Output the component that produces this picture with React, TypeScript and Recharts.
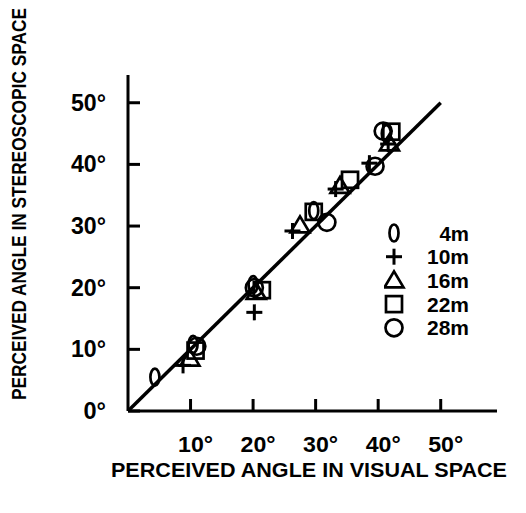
import { ScatterChart, Scatter, XAxis, YAxis, ReferenceLine, Legend, Label } from 'recharts';

// perceived angle in visual space (x) vs stereoscopic space (y), by viewing distance
const x4m = [4.3, 10.4, 20.0, 29.7, 41.3];
const y4m = [5.5, 10.8, 20.5, 32.5, 45.0];
const x10m = [8.8, 20.2, 26.3, 33.2, 38.6, 41.6];
const y10m = [7.4, 16.0, 29.2, 36.0, 40.2, 43.3];
const x16m = [9.9, 20.5, 27.5, 33.9, 41.8];
const y16m = [8.5, 19.3, 30.1, 36.5, 43.4];
const x22m = [10.8, 21.4, 29.7, 35.5, 42.1];
const y22m = [9.8, 19.6, 32.3, 37.5, 45.3];
const x28m = [11.0, 20.2, 31.8, 39.5, 40.8];
const y28m = [10.5, 20.0, 30.6, 39.7, 45.4];

const xTicks = [10, 20, 30, 40, 50];
const yTicks = [0, 10, 20, 30, 40, 50];

const FONT = '"Liberation Sans Narrow", "Liberation Sans", Arial, sans-serif';

const toPoints = (xs: number[], ys: number[]) => xs.map((x, i) => ({ x, y: ys[i] }));

// squeeze text to the narrow gothic look of the original
const textWidth = (s: string) =>
  s.split('').reduce((w, c) => w + (c === '°' ? 10 : c === 'm' ? 17 : 12.5), 0);

type ShapeProps = { cx?: number; cy?: number };

const ZeroShape = ({ cx = 0, cy = 0 }: ShapeProps) => (
  <ellipse cx={cx} cy={cy} rx={4.5} ry={8.5} fill="none" stroke="#000" strokeWidth={2.7} />
);
const PlusShape = ({ cx = 0, cy = 0 }: ShapeProps) => (
  <g stroke="#000" strokeWidth={3}>
    <line x1={cx - 8} y1={cy} x2={cx + 8} y2={cy} />
    <line x1={cx} y1={cy - 8} x2={cx} y2={cy + 8} />
  </g>
);
const TriangleShape = ({ cx = 0, cy = 0 }: ShapeProps) => (
  <polygon
    points={`${cx},${cy - 9} ${cx - 9.5},${cy + 7} ${cx + 9.5},${cy + 7}`}
    fill="none"
    stroke="#000"
    strokeWidth={2.7}
  />
);
const SquareShape = ({ cx = 0, cy = 0 }: ShapeProps) => (
  <rect x={cx - 8} y={cy - 8} width={16} height={16} fill="none" stroke="#000" strokeWidth={2.7} />
);
const CircleShape = ({ cx = 0, cy = 0 }: ShapeProps) => (
  <circle cx={cx} cy={cy} r={8.5} fill="none" stroke="#000" strokeWidth={2.7} />
);

const series = [
  { name: '4m', data: toPoints(x4m, y4m), Shape: ZeroShape },
  { name: '10m', data: toPoints(x10m, y10m), Shape: PlusShape },
  { name: '16m', data: toPoints(x16m, y16m), Shape: TriangleShape },
  { name: '22m', data: toPoints(x22m, y22m), Shape: SquareShape },
  { name: '28m', data: toPoints(x28m, y28m), Shape: CircleShape },
];

const XTick = (props: any) => {
  const { x, y, payload } = props;
  const label = `${payload.value}°`;
  return (
    <g>
      <line x1={x} y1={y} x2={x} y2={y - 12} stroke="#000" strokeWidth={3} />
      <text
        x={x + 5}
        y={y + 41}
        textAnchor="middle"
        textLength={textWidth(label)}
        lengthAdjust="spacingAndGlyphs"
        fontFamily={FONT}
        fontWeight="bold"
        fontSize={22}
        fill="#000"
      >
        {label}
      </text>
    </g>
  );
};

const YTick = (props: any) => {
  const { x, y, payload } = props;
  const label = `${payload.value}°`;
  return (
    <g>
      <line x1={x} y1={y} x2={x + 12} y2={y} stroke="#000" strokeWidth={3} />
      <text
        x={x - 22}
        y={y + 8}
        textAnchor="end"
        textLength={textWidth(label)}
        lengthAdjust="spacingAndGlyphs"
        fontFamily={FONT}
        fontWeight="bold"
        fontSize={23}
        fill="#000"
      >
        {label}
      </text>
    </g>
  );
};

function SeriesLegend() {
  return (
    <svg width={100} height={135}>
      {series.map((s, i) => {
        const cy = 16 + i * 23.7;
        const Shape = s.Shape;
        return (
          <g key={s.name}>
            <Shape cx={10} cy={cy} />
            <text
              x={85}
              y={cy + 7.5}
              textAnchor="end"
              textLength={textWidth(s.name)}
              lengthAdjust="spacingAndGlyphs"
              fontFamily={FONT}
              fontWeight="bold"
              fontSize={21}
              fill="#000"
            >
              {s.name}
            </text>
          </g>
        );
      })}
    </svg>
  );
}

export default function App() {
  return (
    <div style={{ position: 'absolute', left: 0, top: 0, background: '#fff' }}>
      <ScatterChart width={526} height={513} margin={{ top: 75, right: 29, left: 68, bottom: 72 }}>
        <XAxis
          type="number"
          dataKey="x"
          domain={[0, 59]}
          ticks={xTicks}
          tickSize={0}
          tickMargin={0}
          tickLine={false}
          tick={<XTick />}
          height={30}
          axisLine={{ stroke: '#000', strokeWidth: 3 }}
        >
          <Label
            content={() => (
              <text
                x={309}
                y={477}
                textAnchor="middle"
                textLength={396}
                lengthAdjust="spacingAndGlyphs"
                fontFamily={FONT}
                fontWeight="bold"
                fontSize={20}
                fill="#000"
              >
                PERCEIVED ANGLE IN VISUAL SPACE
              </text>
            )}
          />
        </XAxis>
        <YAxis
          type="number"
          dataKey="y"
          domain={[0, 54.5]}
          ticks={yTicks}
          tickSize={0}
          tickMargin={0}
          tickLine={false}
          tick={<YTick />}
          width={60}
          axisLine={{ stroke: '#000', strokeWidth: 3 }}
        >
          <Label
            content={() => (
              <text
                x={0}
                y={0}
                transform="translate(26, 204) rotate(-90)"
                textAnchor="middle"
                textLength={392}
                lengthAdjust="spacingAndGlyphs"
                fontFamily={FONT}
                fontWeight="bold"
                fontSize={20}
                fill="#000"
              >
                PERCEIVED ANGLE IN STEREOSCOPIC SPACE
              </text>
            )}
          />
        </YAxis>
        <ReferenceLine
          segment={[
            { x: 0, y: 0 },
            { x: 50, y: 50 },
          ]}
          stroke="#000"
          strokeWidth={3.5}
          ifOverflow="visible"
        />
        {series.map((s) => (
          <Scatter
            key={s.name}
            name={s.name}
            data={s.data}
            shape={(p: any) => <s.Shape cx={p.cx} cy={p.cy} />}
            isAnimationActive={false}
          />
        ))}
        <Legend
          layout="horizontal"
          verticalAlign="middle"
          align="center"
          content={() => <SeriesLegend />}
          wrapperStyle={{ position: 'absolute', left: 384, top: 217, width: 100, height: 135 }}
        />
      </ScatterChart>
    </div>
  );
}
